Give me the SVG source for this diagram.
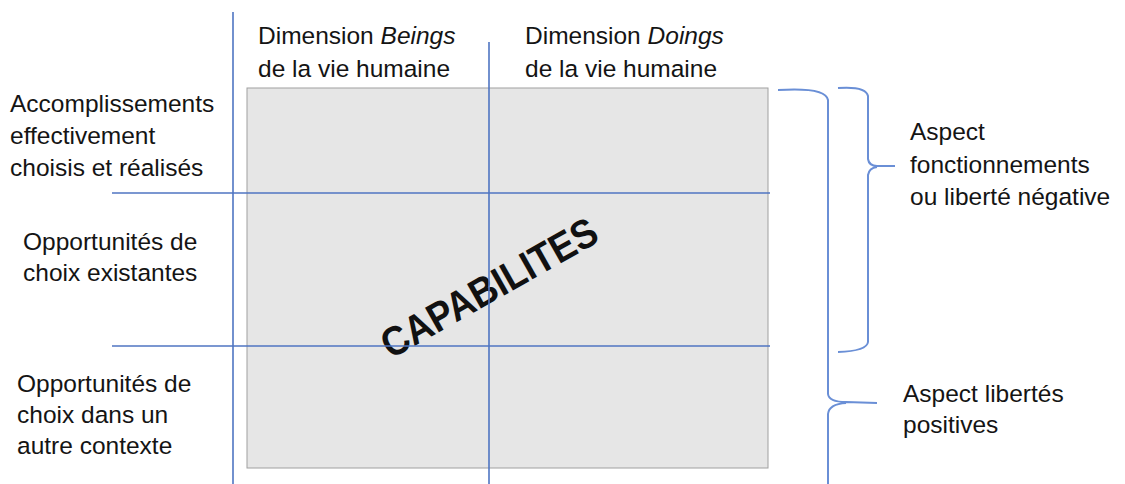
<svg xmlns="http://www.w3.org/2000/svg" width="1125" height="484" viewBox="0 0 1125 484">
<style>
.t{font-family:"Liberation Sans",Arial,sans-serif;font-size:24.5px;fill:#141414}
.grid{stroke:#4f75c2;stroke-width:1.6;fill:none}
.brace{stroke:#6a8fd6;stroke-width:2;fill:none}
.big{font-family:"Liberation Sans",Arial,sans-serif;font-size:41px;font-weight:bold;fill:#111}
</style>
<rect width="1125" height="484" fill="#ffffff"/>
<g id="matrix">
<rect x="247" y="88" width="521" height="380" fill="#e6e6e6" stroke="#a0a0a0" stroke-width="1"/>
<text class="big" text-anchor="middle" textLength="242" lengthAdjust="spacingAndGlyphs" transform="translate(496,300) rotate(-29.5)">CAPABILITES</text>
</g>
<g id="connectors">
<line class="grid" x1="233" y1="12" x2="233" y2="484"/>
<line class="grid" x1="489" y1="42" x2="489" y2="484"/>
<line class="grid" x1="112" y1="193" x2="770" y2="193"/>
<line class="grid" x1="112" y1="346" x2="770" y2="346"/>
<path class="brace" d="M778,90 Q826,87 828,100 L828,394 Q829,402 846,402 L877,403 M846,403 Q829,404 828,414 L828,484"/>
<path class="brace" d="M838,88 Q866,86 868,96 L868,159 Q869,166 877,166 L895,166 M877,167 Q869,168 868,175 L868,342 Q867,351 838,352"/>
</g>
<g id="col-beings"><text class="t" x="258" y="44">Dimension <tspan font-style="italic">Beings</tspan></text><text class="t" x="258" y="77">de la vie humaine</text></g>
<g id="col-doings"><text class="t" x="525" y="44">Dimension <tspan font-style="italic">Doings</tspan></text><text class="t" x="525" y="77">de la vie humaine</text></g>
<g id="row-accomplissements"><text class="t" x="10" y="112">Accomplissements</text><text class="t" x="10" y="144">effectivement</text><text class="t" x="10" y="176">choisis et réalisés</text></g>
<g id="row-existantes"><text class="t" x="23" y="250">Opportunités de</text><text class="t" x="23" y="281">choix existantes</text></g>
<g id="row-autre"><text class="t" x="17" y="392">Opportunités de</text><text class="t" x="17" y="423">choix dans un</text><text class="t" x="17" y="454">autre contexte</text></g>
<g id="aspect-fonctionnements"><text class="t" x="910" y="140">Aspect</text><text class="t" x="910" y="173">fonctionnements</text><text class="t" x="910" y="205">ou liberté négative</text></g>
<g id="aspect-libertes"><text class="t" x="903" y="402">Aspect libertés</text><text class="t" x="903" y="433">positives</text></g>
</svg>
